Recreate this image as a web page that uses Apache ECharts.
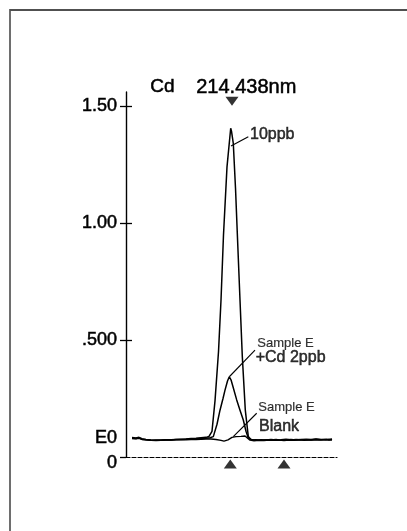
<!DOCTYPE html>
<html>
<head>
<meta charset="utf-8">
<script src="https://cdn.jsdelivr.net/npm/echarts@6/dist/echarts.min.js"></script>
<style>html,body{margin:0;padding:0;background:#fff}#c{width:407px;height:531px}</style>
</head>
<body>
<div id="c"></div>
<script>
// ---- data (x in scan units, y in absorbance) ----
const yTickValues = [0, 0.5, 1.0, 1.5];
const yTickLabels = ['0', '.500', '1.00', '1.50'];
const e0Value = 0.0825;
const e0Label = 'E0';
const titleElement = 'Cd';
const titleWavelength = '214.438nm';

const trace10ppb = [
  [6,0.083],[8,0.086],[10,0.081],[13,0.084],[16,0.078],[20,0.075],[25,0.073],[30,0.072],[35,0.073],[40,0.074],
  [45,0.073],[50,0.075],[55,0.076],[60,0.077],[65,0.079],[70,0.080],[75,0.082],[80,0.084],[83,0.088],[86,0.11],
  [89,0.24],[92.5,0.45],[95,0.67],[97.5,0.95],[101,1.24],[104.7,1.405],[105.6,1.39],[107.3,1.34],[109.5,1.15],
  [111.3,0.956],[114,0.671],[116.3,0.43],[119.3,0.2],[122.3,0.087],[125,0.075],[130,0.072],[135,0.074],[140,0.073],
  [145,0.075],[150,0.073],[155,0.074],[160,0.076],[165,0.073],[170,0.075],[175,0.074],[180,0.076],[185,0.075],
  [190,0.077],[195,0.074],[200,0.076],[203,0.073],[206,0.077]
];
const traceSampleSpike = [
  [6,0.080],[8,0.084],[10,0.079],[13,0.082],[16,0.076],[20,0.074],[25,0.072],[30,0.073],[35,0.072],[40,0.074],
  [45,0.074],[50,0.075],[55,0.075],[60,0.076],[65,0.077],[70,0.078],[75,0.079],[80,0.080],[84,0.082],[87.3,0.087],
  [91,0.14],[94,0.20],[97,0.25],[99,0.286],[101.5,0.325],[103.3,0.343],[105,0.33],[107,0.30],[110.7,0.244],
  [114,0.20],[117.3,0.158],[120,0.11],[122.3,0.081],[126,0.073],[130,0.074],[135,0.072],[140,0.074],[145,0.073],
  [150,0.075],[155,0.072],[160,0.074],[165,0.075],[170,0.073],[175,0.075],[180,0.074],[185,0.073],[190,0.076],
  [195,0.075],[200,0.074],[203,0.076],[206,0.075]
];
const traceBlank = [
  [6,0.079],[8,0.082],[10,0.078],[13,0.080],[16,0.075],[20,0.073],[25,0.071],[30,0.070],[35,0.071],[40,0.072],
  [45,0.072],[50,0.073],[55,0.073],[60,0.074],[65,0.075],[70,0.075],[75,0.076],[80,0.077],[85,0.077],[90,0.075],
  [95,0.071],[98,0.068],[102,0.073],[106,0.084],[110,0.087],[115,0.088],[119,0.090],[121,0.082],[124,0.072],
  [128,0.069],[133,0.071],[138,0.070],[143,0.072],[148,0.071],[153,0.072],[158,0.070],[163,0.072],[168,0.071],
  [173,0.073],[178,0.071],[183,0.072],[188,0.074],[193,0.072],[198,0.073],[203,0.074],[206,0.072]
];

// annotation leaders and labels (data coordinates)
const leader10ppb = [[105,1.329],[122.3,1.369]];
const leaderSpike = [[103.3,0.343],[129,0.457]];
const leaderBlank = [[107.3,0.087],[130.7,0.187]];
const labels = [
  {name:'10ppb', value:[124,1.376], size:16},
  {name:'Sample E', value:[131.3,0.486], size:13},
  {name:'+Cd 2ppb', value:[129.7,0.426], size:16},
  {name:'Sample E', value:[132.3,0.211], size:13},
  {name:'Blank', value:[133,0.132], size:16}
];
const markersUp = [[104.3,-0.03],[158,-0.03]];
const markersDown = [[106,1.52]];

// ---- chart ----
const chart = echarts.init(document.getElementById('c'), null, {renderer:'canvas'});
const FONT = 'Liberation Sans, Arial, Helvetica, sans-serif';
const yMin = 0, yMax = 1.56;
function lineSeries(data, w){
  return {type:'line', data:data, symbol:'none', smooth:false, animation:false,
    lineStyle:{color:'#000', width:w}, z:3};
}
const labelMap = {};
yTickValues.forEach((v,i)=>labelMap[v.toFixed(4)] = yTickLabels[i]);
labelMap[e0Value.toFixed(4)] = e0Label;
const heavy = {textBorderColor:'#000', textBorderWidth:0.5};

chart.setOption({
  animation:false,
  backgroundColor:'#fff',
  grid:{left:126, right:70, top:92, bottom:74, containLabel:false},
  xAxis:{type:'value', min:0, max:211,
    axisLine:{show:true, onZero:false, lineStyle:{color:'#000', width:1.2, type:[4,2]}},
    axisTick:{show:false}, axisLabel:{show:false}, splitLine:{show:false}},
  yAxis:[
    {type:'value', min:yMin, max:yMax, interval:0.5,
      axisLine:{show:true, lineStyle:{color:'#000', width:1.4}},
      axisTick:{show:true, length:6, lineStyle:{color:'#000', width:1.3}, customValues:yTickValues},
      axisLabel:Object.assign({show:true, margin:9, color:'#000', fontFamily:FONT, fontSize:18,
        customValues:yTickValues.concat([e0Value]),
        formatter:function(v){
          const t = labelMap[Number(v).toFixed(4)];
          if (t === '0') return '{z|0}';
          return t === undefined ? '' : t;
        },
        rich:{z:Object.assign({fontFamily:FONT, fontSize:18, color:'#000', padding:[12,0,0,0]}, heavy)}
      }, heavy),
      splitLine:{show:false}},
    {type:'value', min:yMin, max:yMax, interval:0.5, position:'left',
      axisLine:{show:false},
      axisTick:{show:true, inside:true, length:6, lineStyle:{color:'#000', width:1.3}, customValues:yTickValues.slice(1)},
      axisLabel:{show:false}, splitLine:{show:false}}
  ],
  series:[
    lineSeries(traceBlank, 1.4),
    lineSeries(traceSampleSpike, 1.5),
    lineSeries(trace10ppb, 1.5),
    lineSeries(leader10ppb, 1.1),
    lineSeries(leaderSpike, 1.1),
    lineSeries(leaderBlank, 1.1),
    {type:'scatter', data:markersUp, symbol:'triangle', symbolSize:[13,9], clip:false,
      itemStyle:{color:'#000'}, silent:true, z:4},
    {type:'scatter', data:markersDown, symbol:'triangle', symbolRotate:180, symbolSize:[13,9], clip:false,
      itemStyle:{color:'#000'}, silent:true, z:4},
    {type:'scatter', symbolSize:0, clip:false, silent:true, z:5,
      data:labels.map(l=>({name:l.name, value:l.value,
        label:Object.assign({show:true, position:[0,0], align:'left', verticalAlign:'middle',
          formatter:l.name, fontFamily:FONT, fontSize:l.size, color:'#000'},
          l.size > 14 ? heavy : {textBorderColor:'#000', textBorderWidth:0.2})}))}
  ],
  graphic:[
    {type:'rect', shape:{x:10, y:10, width:420, height:560}, style:{fill:'none', stroke:'#6e6e6e', lineWidth:2}, silent:true},
    {type:'line', shape:{x1:10, y1:10, x2:407, y2:10}, style:{stroke:'#333', lineWidth:1}, silent:true},
    {type:'text', left:150, top:77, style:Object.assign({text:titleElement, font:'19px ' + FONT, fill:'#000'}, {stroke:'#000', lineWidth:0.5})},
    {type:'text', left:196, top:77, style:Object.assign({text:titleWavelength, font:'20px ' + FONT, fill:'#000'}, {stroke:'#000', lineWidth:0.5})}
  ]
});
</script>
</body>
</html>
